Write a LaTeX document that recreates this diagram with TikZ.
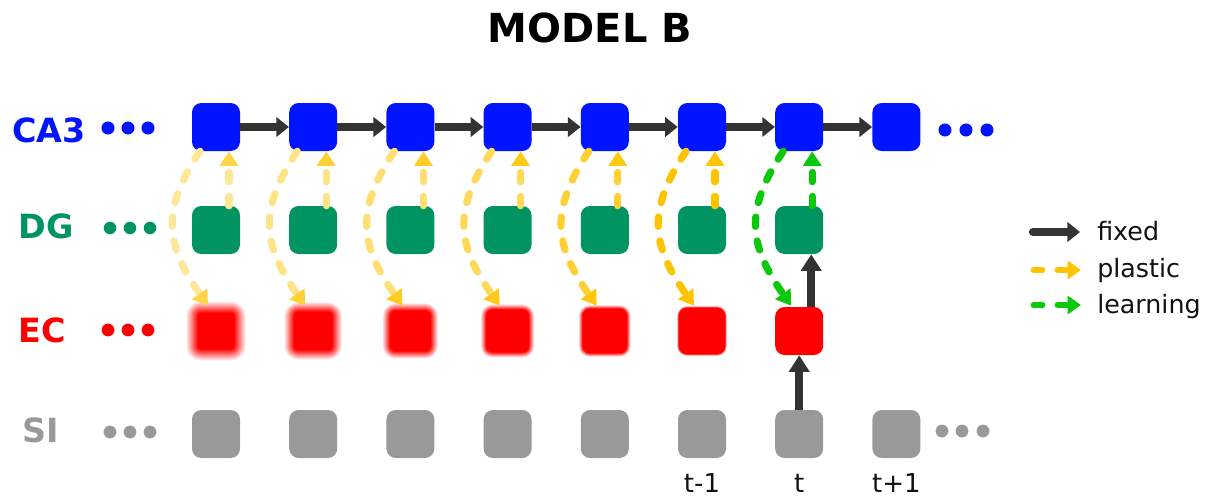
\documentclass[tikz,border=0pt]{standalone}
\usepackage{fontspec}
\setmainfont{DejaVu Sans}
\usetikzlibrary{arrows.meta,calc}

\definecolor{cablue}{RGB}{0,20,255}
\definecolor{dggreen}{RGB}{0,148,98}
\definecolor{ecred}{RGB}{255,0,0}
\definecolor{sigrey}{RGB}{153,153,153}
\definecolor{fixedgrey}{RGB}{51,51,51}
\definecolor{plasticyellow}{RGB}{255,196,0}
\definecolor{learngreen}{RGB}{10,200,10}

\begin{document}
\begin{tikzpicture}[x=0.75pt,y=-0.75pt,
  cell/.style={minimum size=36pt, inner sep=0pt, rounded corners=7pt, draw=none},
  fixedarrow/.style={draw=fixedgrey, line width=6.2pt, -{Triangle[length=9.5pt,width=14.5pt]}},
  fixedup/.style={draw=fixedgrey, line width=6pt, -{Triangle[length=12.5pt,width=15pt]}},
  dashline/.style={line width=5.4pt, line cap=round, dash pattern=on 7pt off 11pt},
  rowlabel/.style={anchor=base, inner sep=0pt, font=\bfseries\fontsize{25}{28}\selectfont},
  legendtext/.style={anchor=base west, inner sep=0pt, font=\fontsize{19}{22}\selectfont, text=black!93},
  timetext/.style={anchor=base, inner sep=0pt, font=\fontsize{19.5}{22}\selectfont, text=black!93}
]
\useasboundingbox (0,0) rectangle (1222,497);

% title
\node[anchor=base, inner sep=0pt, font=\bfseries\fontsize{30}{34}\selectfont] (title) at (590,42) {MODEL B};

% row labels
\node[rowlabel, text=cablue] (lca) at (49,142) {CA3};
\node[rowlabel, text=dggreen] (ldg) at (46.5,238) {DG};
\node[rowlabel, text=ecred] (lec) at (42.5,342) {EC};
\node[rowlabel, text=sigrey] (lsi) at (40.5,442) {SI};

% ellipsis dots
\foreach \x in {108,128,148} {
  \fill[cablue] (\x,128) circle (4.9pt);
  \fill[dggreen] (\x+2,228) circle (4.7pt);
  \fill[ecred] (\x,330) circle (4.8pt);
  \fill[sigrey] (\x+2,432) circle (4.8pt);
}
\foreach \x in {945,966,987} {
  \fill[cablue] (\x,130) circle (4.9pt);
}
\foreach \x in {942,962,983} {
  \fill[sigrey] (\x,431) circle (4.8pt);
}

% cells
\foreach \i in {0,...,7} {
  \node[cell, fill=cablue] (ca\i) at ({216+97.2*\i},127) {};
  \node[cell, fill=sigrey] (si\i) at ({216+97.2*\i},434) {};
}
\foreach \i in {0,...,5} {
  \node[cell, fill=dggreen] (dg\i) at ({216+97.2*\i},230) {};
  \node[cell] (ec\i) at ({216+97.2*\i},331) {};
}
\node[cell, fill=dggreen] (dg6) at ({216+97.2*6},230) {};
\node[cell, fill=ecred] (ec6) at ({216+97.2*6},331) {};

% older EC cells fade out: stacked layers give a soft edge
\foreach \i/\b in {0/5.5,1/4.6,2/3.6,3/2.6,4/1.8,5/0.9} {
  \foreach \j in {0,...,11} {
    \pgfmathsetmacro\hsz{24+\b-2*\b*\j/11}
    \pgfmathsetmacro\rad{max(4,9+\b-2*\b*\j/11)*0.75}
    \pgfmathsetmacro\alp{1/(12-\j)}
    \fill[ecred, fill opacity=\alp, rounded corners=\rad pt]
      ($(ec\i)+(-\hsz,-\hsz)$) rectangle ($(ec\i)+(\hsz,\hsz)$);
  }
}

% CA3 recurrent chain
\foreach \i [evaluate=\i as \n using int(\i+1)] in {0,...,6} {
  \draw[fixedarrow] (ca\i.east) -- (ca\n.west);
}

% plastic connections, fainter for older steps
\foreach \i/\lf/\hf in {0/40/72,1/47/78,2/55/84,3/65/90,4/80/95,5/100/100} {
  \draw[dashline, draw=plasticyellow!\lf!white,
        -{Triangle[length=11pt,width=13.5pt,color=plasticyellow!\hf!white]}]
    ($(dg\i.north)+(13,0)$) -- ($(ca\i.south)+(13,0)$);
  \draw[dashline, draw=plasticyellow!\lf!white,
        -{Triangle[length=11pt,width=13.5pt,color=plasticyellow!\hf!white]}]
    ($(ca\i.south)+(-16,0)$) .. controls +(-40,60) and +(-42,-60) .. ($(ec\i.north)+(-8,-1)$);
}

% learning connections at the current step
\draw[dashline, draw=learngreen, -{Triangle[length=11pt,width=13.5pt]}]
  ($(dg6.north)+(13,0)$) -- ($(ca6.south)+(13,0)$);
\draw[dashline, draw=learngreen, -{Triangle[length=11pt,width=13.5pt]}]
  ($(ca6.south)+(-16,0)$) .. controls +(-40,60) and +(-42,-60) .. ($(ec6.north)+(-8,-1)$);

% fixed feed-forward input
\draw[fixedup] (si6.north) -- (ec6.south);
\draw[fixedup] ($(ec6.north)+(12,0)$) -- ($(dg6.south)+(12,0)$);

% time labels
\node[timetext] (tm1) at (si5 |- 0,492) {t-1};
\node[timetext] (t0) at (si6 |- 0,492) {t};
\node[timetext] (tp1) at (si7 |- 0,492) {t+1};

% legend
\coordinate (fixA) at (1033,232);
\coordinate (fixB) at (1080,232);
\draw[fixedarrow, line cap=round] (fixA) -- (fixB);
\node[legendtext] (lfixed) at (1097,240) {fixed};

\coordinate (plA) at (1034,270);
\coordinate (plB) at (1042,270);
\coordinate (plC) at (1058,270);
\coordinate (plD) at (1081,270);
\draw[plasticyellow, line width=5.2pt, line cap=round] (plA) -- (plB);
\draw[plasticyellow, line width=5.2pt, line cap=round, -{Triangle[length=10pt,width=13.5pt]}] (plC) -- (plD);
\node[legendtext] (lplastic) at (1097,277) {plastic};

\coordinate (lnA) at (1034,305);
\coordinate (lnB) at (1042,305);
\coordinate (lnC) at (1058,305);
\coordinate (lnD) at (1081,305);
\draw[learngreen, line width=5.2pt, line cap=round] (lnA) -- (lnB);
\draw[learngreen, line width=5.2pt, line cap=round, -{Triangle[length=10pt,width=13.5pt]}] (lnC) -- (lnD);
\node[legendtext] (llearning) at (1097,313) {learning};
\end{tikzpicture}
\end{document}
